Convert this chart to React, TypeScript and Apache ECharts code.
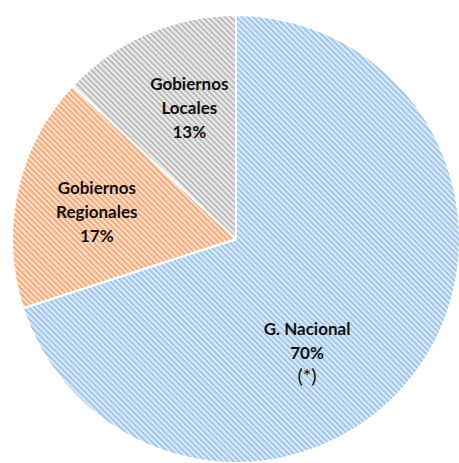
import React, { useEffect, useRef } from "react";
import * as echarts from "echarts";

const names = ["G. Nacional", "Gobiernos\nRegionales", "Gobiernos\nLocales"];
const values = [70, 17, 13];
const notes = ["(*)", "", ""];
const baseColors = ["#dceaf8", "#fde0cc", "#ececec"];
const stripeColors = ["#a0c6ea", "#f5ab7b", "#bcbcbc"];
const labelOffsets: [number, number][] = [[-22, 44], [-27, -2], [-1, -26]];

export default function App() {
  const ref = useRef<HTMLDivElement>(null);
  useEffect(() => {
    const chart = echarts.init(ref.current!, null, { renderer: "svg" });
    chart.setOption({
      animation: false,
      series: [
        {
          type: "pie",
          center: [236, 239],
          radius: [0, 224],
          startAngle: 90,
          clockwise: true,
          itemStyle: { borderColor: "#ffffff", borderWidth: 2 },
          labelLine: { show: false },
          data: values.map((v, i) => ({
            value: v,
            name: names[i],
            itemStyle: {
              color: baseColors[i],
              decal: {
                symbol: "rect",
                color: stripeColors[i],
                dashArrayX: [1, 0],
                dashArrayY: [1.6, 1.5],
                rotation: Math.PI / 4,
                symbolSize: 1,
              },
            },
            label: {
              show: true,
              position: "inside",
              offset: labelOffsets[i],
              formatter: () => {
                const lines = names[i].split("\n").map((s) => `{b|${s}}`);
                lines.push(`{b|${v}%}`);
                if (notes[i]) lines.push(`{s|${notes[i]}}`);
                return lines.join("\n");
              },
              rich: {
                b: { fontFamily: "Lato", fontWeight: "bold", fontSize: 17, color: "#111", lineHeight: 24, align: "center" },
                s: { fontFamily: "Lato", fontSize: 20, color: "#111", lineHeight: 20, align: "center" },
              },
            },
          })),
        },
      ],
    });
    return () => chart.dispose();
  }, []);
  return <div ref={ref} style={{ position: "fixed", left: 0, top: 0, width: 459, height: 463, background: "#fff" }} />;
}
